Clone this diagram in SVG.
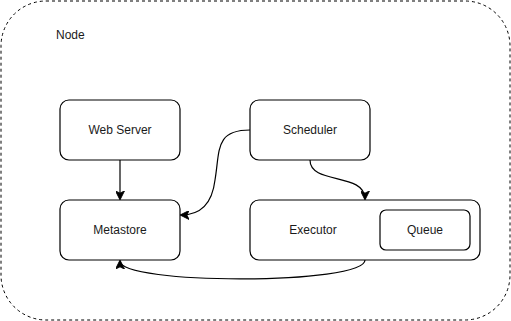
<svg xmlns="http://www.w3.org/2000/svg" width="511" height="321" viewBox="0 0 511 321">
<style>
.box{fill:#fff;stroke:#000;stroke-width:1.2}
.lbl{font-family:"Liberation Sans",Arial,sans-serif;font-size:12px;fill:#1a1a1a;text-anchor:middle;dominant-baseline:central}
.edge{fill:none;stroke:#000;stroke-width:1.2}
</style>
<defs>
<marker id="arr" viewBox="0 0 10 10" refX="9" refY="5" markerWidth="9" markerHeight="9" markerUnits="userSpaceOnUse" orient="auto">
<path d="M0 0 L10 5 L0 10 L2.5 5 Z" fill="#000" stroke="#000" stroke-width="1"/>
</marker>
</defs>
<rect width="511" height="321" fill="#fff"/>
<g id="node">
<rect x="1" y="1" width="509" height="319" rx="45" ry="45" fill="#fff" stroke="#000" stroke-width="1" stroke-dasharray="3 3"/>
<text x="56" y="35" font-family="Liberation Sans,Arial,sans-serif" font-size="12" fill="#1a1a1a" dominant-baseline="central">Node</text>
</g>
<g id="webserver"><rect class="box" x="60" y="100" width="120" height="60" rx="9"/><text class="lbl" x="120" y="130">Web Server</text></g>
<g id="metastore"><rect class="box" x="60" y="200" width="120" height="60" rx="9"/><text class="lbl" x="120" y="230">Metastore</text></g>
<g id="scheduler"><rect class="box" x="250" y="100" width="120" height="60" rx="9"/><text class="lbl" x="310" y="130">Scheduler</text></g>
<g id="executor"><rect class="box" x="250" y="200" width="230" height="60" rx="9"/><text class="lbl" x="313" y="230">Executor</text></g>
<g id="queue"><rect class="box" x="380" y="210" width="90" height="40" rx="6"/><text class="lbl" x="425" y="230">Queue</text></g>
<g id="connectors">
<path class="edge" d="M120 160 L120 199" marker-end="url(#arr)"/>
<path class="edge" d="M250 130 C215 130 220 150 215 180 C212 205 200 215 181 215" marker-end="url(#arr)"/>
<path class="edge" d="M310 160 C310 185 365 172 365 199" marker-end="url(#arr)"/>
<path class="edge" d="M365 260 C365 285 120 285 120 261" marker-end="url(#arr)"/>
</g>
</svg>
